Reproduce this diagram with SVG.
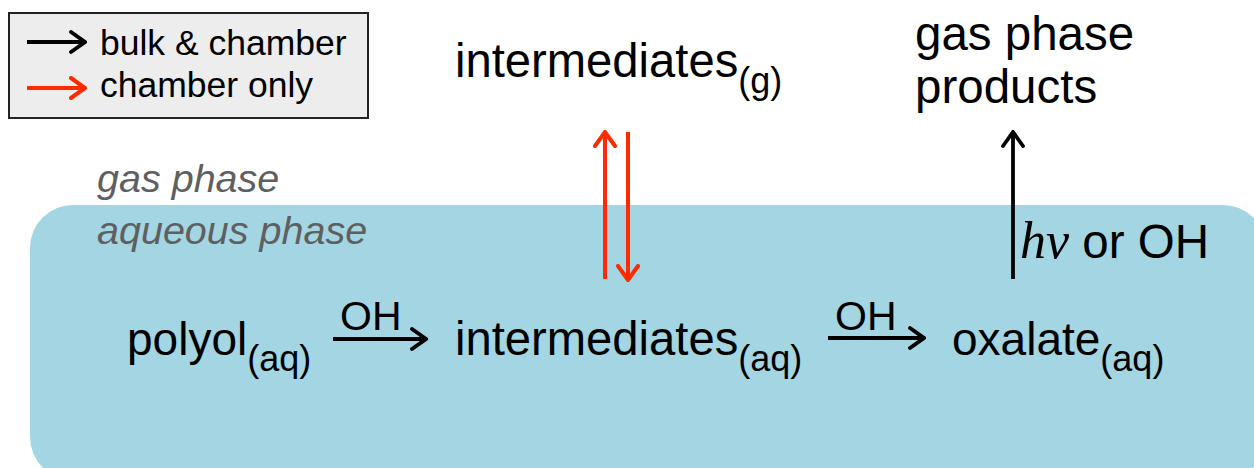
<svg xmlns="http://www.w3.org/2000/svg" width="1254" height="468" viewBox="0 0 1254 468">
  <style>
    .t { font-family: "Liberation Sans", Arial, sans-serif; fill: #000; }
    .main { font-size: 46px; }
    .wide { font-size: 47.2px; }
    .big { font-size: 47.5px; }
    .sub { font-size: 36px; }
    .lbl { font-size: 41px; }
    .leg { font-size: 35.5px; }
    .phase { font-family: "Liberation Sans", Arial, sans-serif; font-style: italic; font-size: 39.5px; fill: #5f5f5f; }
    .blk { stroke: #000; stroke-width: 3.8; fill: none; }
    .red { stroke: #ff2a00; stroke-width: 4; fill: none; }
  </style>
  <defs>
    <marker id="ahB" viewBox="0 0 18 24" refX="16" refY="12" markerWidth="18" markerHeight="24" markerUnits="userSpaceOnUse" orient="auto">
      <path d="M2,2 L16,12 L2,22" fill="none" stroke="#000" stroke-width="3.8" stroke-linecap="round"/>
    </marker>
    <marker id="ahR" viewBox="0 0 18 24" refX="16" refY="12" markerWidth="18" markerHeight="24" markerUnits="userSpaceOnUse" orient="auto">
      <path d="M2,2 L16,12 L2,22" fill="none" stroke="#ff2a00" stroke-width="4" stroke-linecap="round"/>
    </marker>
  </defs>

  <rect width="1254" height="468" fill="#ffffff"/>

  <!-- aqueous phase region -->
  <rect id="aqueous-region" x="30" y="205" width="1236" height="275" rx="43" ry="43" fill="#a3d5e3"/>

  <g id="phase-labels">
    <text class="phase" x="97" y="192">gas phase</text>
    <text class="phase" x="97" y="244">aqueous phase</text>
  </g>

  <g id="legend">
    <rect x="9" y="13" width="359" height="105" fill="#ededed" stroke="#222" stroke-width="2"/>
    <line x1="27" y1="42" x2="85" y2="42" class="blk" marker-end="url(#ahB)"/>
    <line x1="27" y1="88" x2="85" y2="88" class="red" marker-end="url(#ahR)"/>
    <text class="t leg" x="100" y="55">bulk &amp; chamber</text>
    <text class="t leg" x="100" y="97">chamber only</text>
  </g>

  <g id="intermediates-g">
    <text class="t wide" x="455" y="77">intermediates<tspan class="sub" dy="16">(g)</tspan></text>
  </g>

  <g id="gas-phase-products">
    <text class="t big" x="915" y="50">gas phase</text>
    <text class="t big" x="915" y="103">products</text>
  </g>

  <g id="polyol">
    <text class="t main" x="127" y="355">polyol<tspan class="sub" dy="16">(aq)</tspan></text>
  </g>

  <g id="intermediates-aq">
    <text class="t wide" x="455" y="355">intermediates<tspan class="sub" dy="16">(aq)</tspan></text>
  </g>

  <g id="oxalate">
    <text class="t main" x="952" y="355">oxalate<tspan class="sub" dy="16">(aq)</tspan></text>
  </g>

  <g id="connectors">
    <line x1="333" y1="339" x2="426" y2="339" class="blk" marker-end="url(#ahB)"/>
    <text class="t lbl" x="340" y="330">OH</text>
    <line x1="828" y1="338" x2="924" y2="338" class="blk" marker-end="url(#ahB)"/>
    <text class="t lbl" x="835" y="330">OH</text>
    <line x1="1013" y1="279" x2="1013" y2="132" class="blk" marker-end="url(#ahB)"/>
    <text class="t big" x="1020" y="258"><tspan font-family="'Liberation Serif', 'Times New Roman', serif" font-style="italic" font-size="52px">hν</tspan> or OH</text>
    <line x1="605" y1="279" x2="605" y2="132" class="red" marker-end="url(#ahR)"/>
    <line x1="628" y1="132" x2="628" y2="280" class="red" marker-end="url(#ahR)"/>
  </g>
</svg>
